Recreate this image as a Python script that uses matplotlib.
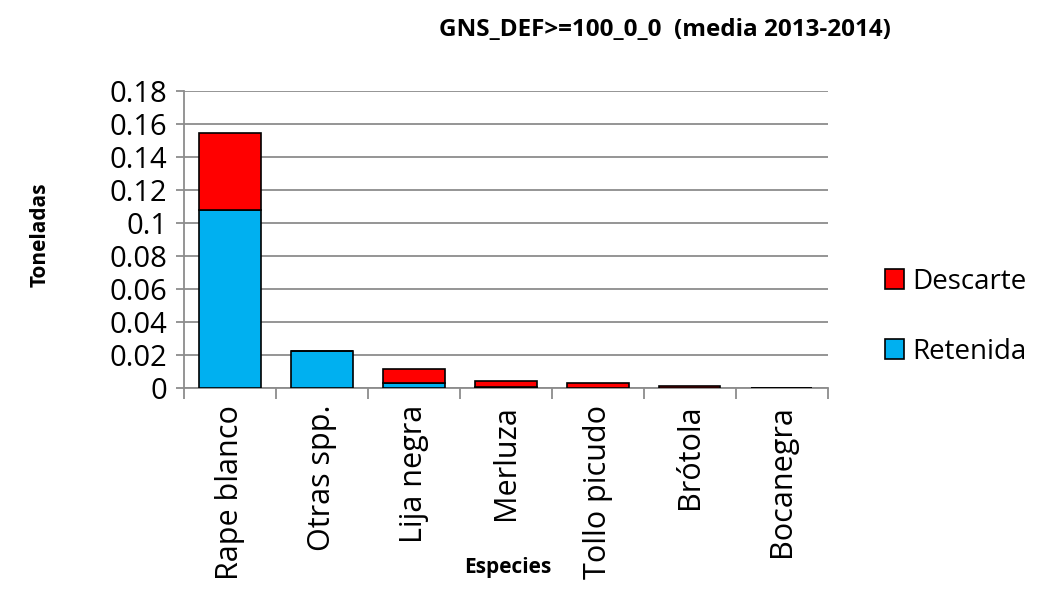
import matplotlib.pyplot as plt
import numpy as np

plt.rcParams['font.family'] = ['Open Sans', 'DejaVu Sans']

especies = ['Rape blanco', 'Otras spp.', 'Lija negra', 'Merluza', 'Tollo picudo', 'Brótola', 'Bocanegra']
retenida = [0.108, 0.0224, 0.003, 0.0005, 0.0002, 0.0003, 0.0002]
descarte = [0.0465, 0.0, 0.0085, 0.004, 0.0028, 0.0007, 0.0001]

fig = plt.figure(figsize=(10.57, 5.97), dpi=100)
ax = fig.add_axes([0.174, 0.35, 0.609, 0.498])

x = np.arange(len(especies))
b1 = ax.bar(x, retenida, width=0.67, color='#00B0F0', edgecolor='black', linewidth=1.2, label='Retenida', zorder=3)
b2 = ax.bar(x, descarte, width=0.67, bottom=retenida, color='#FF0000', edgecolor='black', linewidth=1.2, label='Descarte', zorder=3)

ax.set_xlim(-0.5, len(especies) - 0.5)
ax.set_ylim(0, 0.18)
ax.set_yticks(np.arange(0, 0.181, 0.02))
ax.set_yticklabels(['0', '0.02', '0.04', '0.06', '0.08', '0.1', '0.12', '0.14', '0.16', '0.18'], fontsize=21)
ax.yaxis.grid(True, color='#8C8C8C', linewidth=1.3, zorder=0)
ax.set_xticks(x)
ax.set_xticklabels(especies, rotation=90, fontsize=22)
ax.set_xticks(np.arange(-0.5, len(especies)), minor=True)
ax.tick_params(axis='x', which='major', length=0, pad=12)
ax.tick_params(axis='x', which='minor', length=8, color='#8C8C8C', width=1.3)
ax.tick_params(axis='y', length=6, color='#8C8C8C', width=1.3, pad=6)

for s in ['top', 'right']:
    ax.spines[s].set_visible(False)
for s in ['left', 'bottom']:
    ax.spines[s].set_color('#8C8C8C')
    ax.spines[s].set_linewidth(1.3)

fig.text(0.629, 0.95, 'GNS_DEF>=100_0_0  (media 2013-2014)', ha='center', va='center', fontsize=17.5, fontweight='bold')
fig.text(0.038, 0.606, 'Toneladas', rotation=90, ha='center', va='center', fontsize=15, fontweight='bold')
fig.text(0.48, 0.05, 'Especies', ha='center', va='center', fontsize=15, fontweight='bold')

ax.legend([b2, b1], ['Descarte', 'Retenida'], loc='center left', bbox_to_anchor=(1.05, 0.24),
          frameon=False, fontsize=20, handlelength=0.7, handleheight=0.7, labelspacing=1.5, handletextpad=0.3)

fig.savefig('out.png', dpi=100)
